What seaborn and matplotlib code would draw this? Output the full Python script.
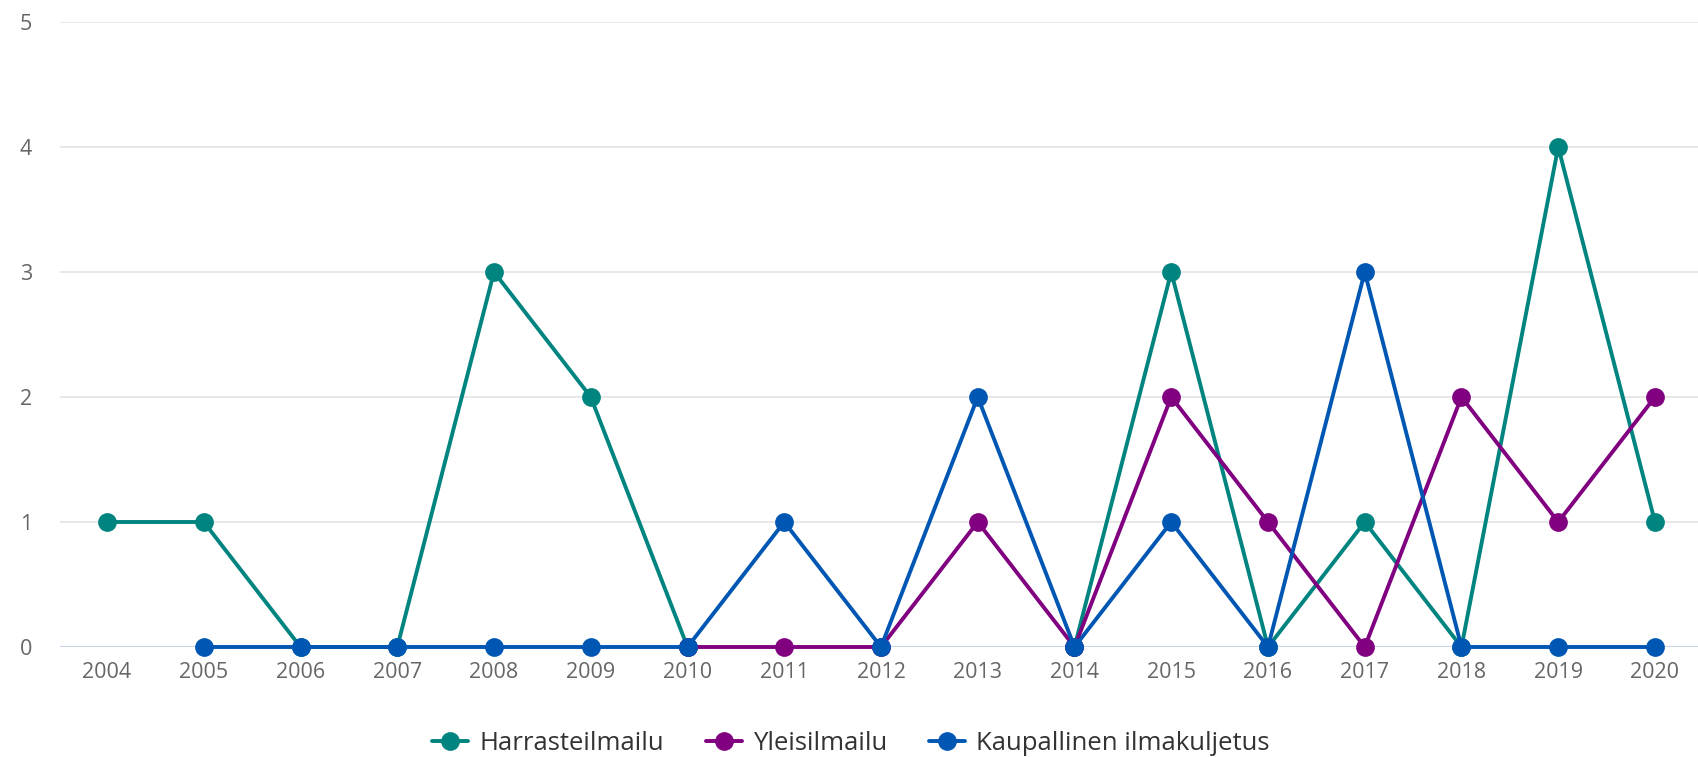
import numpy as np
import pandas as pd
import matplotlib
matplotlib.use("Agg")
import matplotlib.pyplot as plt
from matplotlib.lines import Line2D
import seaborn as sns

years = list(range(2004, 2021))
harraste = [1, 1, 0, 0, 3, 2, 0, None, None, None, 0, 3, 0, 1, 0, 4, 1]
yleis = [None, None, None, None, None, None, 0, 0, 0, 1, 0, 2, 1, 0, 2, 1, 2]
kaupallinen = [None, 0, 0, 0, 0, 0, 0, 1, 0, 2, 0, 1, 0, 3, 0, 0, 0]
series_names = ["Harrasteilmailu", "Yleisilmailu", "Kaupallinen ilmakuljetus"]
colors = ["#00847F", "#800080", "#0057B3"]

rows = []
for name, vals in zip(series_names, [harraste, yleis, kaupallinen]):
    seg = 0
    prev_nan = True
    for i, (yr, v) in enumerate(zip(years, vals)):
        if v is None:
            prev_nan = True
            continue
        if prev_nan:
            seg += 1
            prev_nan = False
        rows.append({"pos": i, "year": yr, "value": v, "series": name,
                     "seg": f"{name}-{seg}"})
df = pd.DataFrame(rows)

sns.set_style("white")
plt.rcParams['font.family'] = ['Open Sans', 'DejaVu Sans']

fig = plt.figure(figsize=(16.99, 7.57), dpi=100)
ax = fig.add_axes([60 / 1699, (757 - 647) / 757, (1699 - 60) / 1699, (647 - 22) / 757])

sns.lineplot(data=df, x="pos", y="value", hue="series", units="seg",
             estimator=None, hue_order=series_names, palette=colors,
             marker="o", markersize=13.5, markeredgewidth=0, linewidth=2.8,
             ax=ax, legend=False, clip_on=False, zorder=3)

ax.set_xlim(-0.486, 16.455)
ax.set_ylim(0, 5)
ax.set_xticks(range(len(years)))
ax.set_xticklabels([str(y) for y in years])
ax.set_yticks([0, 1, 2, 3, 4, 5])
ax.set_xlabel("")
ax.set_ylabel("")
for s in ax.spines.values():
    s.set_visible(False)
ax.grid(False)
for yv in [1, 2, 3, 4, 5]:
    ax.axhline(yv, color="#e6e6e6", linewidth=1.3, zorder=0)
ax.axhline(0, color="#ccd6eb", linewidth=1.6, zorder=0)
ax.tick_params(axis="both", length=0, labelsize=15.5, colors="#666666")
ax.tick_params(axis="x", pad=11)
ax.tick_params(axis="y", pad=20)

handles = [Line2D([0], [0], color=c, marker="o", markersize=13.5, markeredgewidth=0,
                  linewidth=2.8) for c in colors]
leg = fig.legend(handles, series_names, loc="center", bbox_to_anchor=(851 / 1699, 1 - 743 / 757),
                 ncol=3, frameon=False, fontsize=18.5, handlelength=1.4, handletextpad=0.45,
                 columnspacing=1.6, labelcolor="#333333")

fig.savefig("out.png", dpi=100, facecolor="white")
